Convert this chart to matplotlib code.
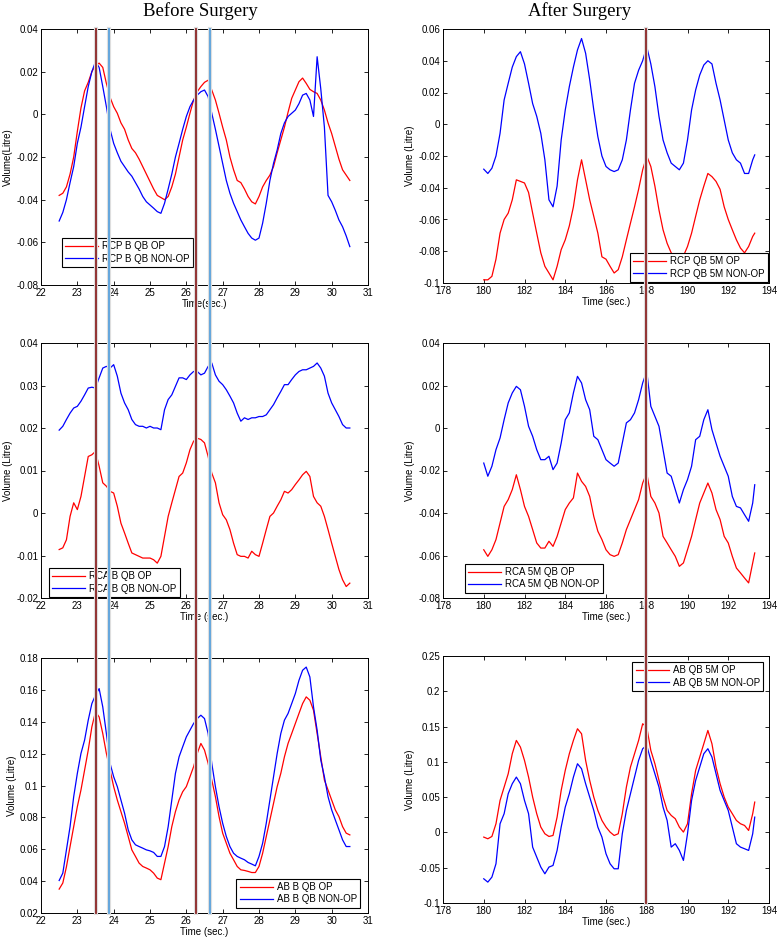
import numpy as np
import matplotlib
matplotlib.use("Agg")
import matplotlib.pyplot as plt
from matplotlib.lines import Line2D
from matplotlib.transforms import blended_transform_factory

plt.rcParams['font.family'] = ['Liberation Sans', 'DejaVu Sans']

# sample times (s)
t_before = np.round(np.arange(22.5, 30.55, 0.1), 1)
t_after = np.append(np.round(np.arange(180.0, 193.25, 0.2), 1), 193.3)

# ---- before surgery ----
rcp_b_op = [-0.038, -0.037, -0.034, -0.028, -0.020, -0.008, 0.003, 0.011, 0.015, 0.020,
            0.023, 0.024, 0.022, 0.0145, 0.008, 0.0036, 0.0005, -0.004, -0.007, -0.012,
            -0.016, -0.018, -0.021, -0.0245, -0.028, -0.0315, -0.035, -0.038, -0.039, -0.040,
            -0.0385, -0.034, -0.028, -0.020, -0.012, -0.006, 0.0005, 0.0067, 0.0106, 0.013,
            0.015, 0.016, 0.0114, 0.0067, 0.0005, -0.006, -0.012, -0.020, -0.026, -0.031,
            -0.032, -0.035, -0.0385, -0.041, -0.042, -0.0385, -0.034, -0.031, -0.0285, -0.0245,
            -0.018, -0.012, -0.006, 0.001, 0.0075, 0.0114, 0.0153, 0.017, 0.0145, 0.0117,
            0.0106, 0.0098, 0.0067, 0.002, -0.004, -0.009, -0.015, -0.021, -0.026, -0.0285,
            -0.031]
rcp_b_nonop = [-0.050, -0.046, -0.040, -0.032, -0.0245, -0.0136, -0.006, 0.0036, 0.013, 0.020,
               0.0247, 0.022, 0.013, 0.0036, -0.007, -0.0136, -0.018, -0.022, -0.0245, -0.027,
               -0.029, -0.032, -0.035, -0.0385, -0.041, -0.0425, -0.044, -0.0456, -0.0464, -0.0417,
               -0.035, -0.028, -0.020, -0.0136, -0.007, -0.001, 0.0036, 0.0067, 0.009, 0.0106,
               0.0114, 0.0083, 0.0005, -0.007, -0.015, -0.023, -0.031, -0.037, -0.0417, -0.0456,
               -0.0495, -0.0527, -0.0558, -0.058, -0.059, -0.058, -0.051, -0.0417, -0.031, -0.023,
               -0.0167, -0.009, -0.004, -0.001, 0.0005, 0.002, 0.005, 0.009, 0.0098, 0.0067,
               -0.001, 0.027, 0.012, -0.006, -0.038, -0.041, -0.045, -0.0495, -0.0527, -0.057,
               -0.062]

rca_b_op = [-0.0086, -0.0082, -0.0063, -0.0008, 0.0024, 0.0008, 0.0039, 0.0086, 0.0133, 0.0137,
            0.0145, 0.011, 0.0071, 0.0063, 0.0051, 0.0047, 0.0016, -0.0024, -0.0047, -0.0071,
            -0.0094, -0.0098, -0.0102, -0.0106, -0.0106, -0.0106, -0.011, -0.0118, -0.0102, -0.0055,
            -0.0008, 0.0024, 0.0055, 0.0086, 0.0094, 0.0118, 0.0149, 0.0169, 0.0176, 0.0173,
            0.0165, 0.0133, 0.0094, 0.0071, 0.0024, -0.0004, -0.0016, -0.0039, -0.0071, -0.0098,
            -0.0102, -0.0102, -0.0106, -0.009, -0.0098, -0.0102, -0.0071, -0.0039, -0.0008, 0.0,
            0.0016, 0.0031, 0.0051, 0.0047, 0.0055, 0.0067, 0.0078, 0.009, 0.0098, 0.0086,
            0.0039, 0.0024, 0.0016, -0.0008, -0.0039, -0.0071, -0.0102, -0.0133, -0.0157, -0.0173,
            -0.0165]
rca_b_nonop = [0.0195, 0.0204, 0.022, 0.0235, 0.0247, 0.0251, 0.0263, 0.0278, 0.0294, 0.0296,
               0.0294, 0.0318, 0.0341, 0.0345, 0.0341, 0.0349, 0.0322, 0.0282, 0.0259, 0.0243,
               0.022, 0.0208, 0.0204, 0.0204, 0.020, 0.0204, 0.020, 0.020, 0.0196, 0.0243,
               0.0267, 0.0278, 0.0298, 0.0318, 0.0318, 0.0314, 0.0325, 0.0333, 0.0333, 0.0325,
               0.0329, 0.0345, 0.0353, 0.0325, 0.031, 0.0302, 0.029, 0.0275, 0.0259, 0.0235,
               0.0216, 0.0224, 0.022, 0.0224, 0.0224, 0.0227, 0.0227, 0.0231, 0.0243, 0.0255,
               0.0271, 0.0286, 0.0302, 0.0302, 0.0314, 0.0325, 0.0333, 0.0337, 0.0337, 0.0341,
               0.0345, 0.0353, 0.0341, 0.0322, 0.0282, 0.0259, 0.0243, 0.0227, 0.0208, 0.020,
               0.020]

ab_b_op = [0.035, 0.0388, 0.049, 0.0617, 0.0742, 0.0867, 0.0972, 0.1097, 0.1222, 0.1368,
           0.1462, 0.143, 0.1326, 0.1201, 0.1097, 0.0993, 0.0909, 0.0836, 0.0763, 0.068,
           0.0596, 0.0555, 0.0513, 0.0492, 0.0482, 0.0471, 0.045, 0.0419, 0.0409, 0.0513,
           0.0617, 0.0742, 0.0836, 0.0909, 0.0961, 0.0993, 0.1055, 0.1118, 0.1201, 0.1264,
           0.1222, 0.1139, 0.1034, 0.093, 0.0805, 0.0701, 0.0638, 0.0575, 0.0534, 0.0492,
           0.0471, 0.0467, 0.0461, 0.0454, 0.0454, 0.0492, 0.0575, 0.068, 0.0784, 0.0888,
           0.0993, 0.1076, 0.118, 0.1264, 0.1326, 0.1389, 0.1452, 0.1514, 0.1556, 0.1535,
           0.1472, 0.1326, 0.118, 0.1034, 0.0972, 0.0909, 0.0847, 0.0805, 0.0742, 0.0701,
           0.069]
ab_b_nonop = [0.0404, 0.045, 0.0596, 0.0742, 0.093, 0.1076, 0.1201, 0.1285, 0.141, 0.1514,
              0.1567, 0.1608, 0.1493, 0.1326, 0.1139, 0.1055, 0.0993, 0.0909, 0.0826, 0.0722,
              0.0659, 0.0628, 0.0617, 0.0607, 0.0596, 0.059, 0.058, 0.0555, 0.0555, 0.0617,
              0.0742, 0.0909, 0.1076, 0.118, 0.1243, 0.1305, 0.1347, 0.1389, 0.142, 0.1441,
              0.142, 0.1326, 0.1139, 0.0993, 0.0867, 0.0763, 0.068, 0.0617, 0.0575, 0.0555,
              0.0544, 0.0534, 0.0517, 0.0507, 0.0496, 0.0555, 0.0638, 0.0763, 0.0909, 0.1055,
              0.1201, 0.1326, 0.141, 0.1452, 0.1514, 0.1577, 0.166, 0.1723, 0.1743, 0.1681,
              0.1493, 0.1347, 0.116, 0.1055, 0.093, 0.0847, 0.0784, 0.0722, 0.0659, 0.0617,
              0.0617]

# ---- after surgery (5 months) ----
rcp_5m_op = [-0.098, -0.098, -0.0958, -0.085, -0.0686, -0.060, -0.056, -0.0476, -0.035, -0.036,
             -0.037, -0.043, -0.056, -0.0686, -0.081, -0.0895, -0.0937, -0.098, -0.0895, -0.079,
             -0.0728, -0.064, -0.052, -0.035, -0.0224, -0.035, -0.0476, -0.058, -0.0686, -0.0835,
             -0.085, -0.0895, -0.0937, -0.0916, -0.0835, -0.0728, -0.0623, -0.052, -0.041, -0.0287,
             -0.020, -0.0266, -0.039, -0.054, -0.0665, -0.075, -0.081, -0.084, -0.086, -0.083,
             -0.077, -0.0686, -0.058, -0.0476, -0.039, -0.031, -0.033, -0.036, -0.041, -0.052,
             -0.060, -0.0665, -0.0728, -0.078, -0.081, -0.077, -0.0707,
             -0.0686]
rcp_5m_nonop = [-0.0283, -0.031, -0.0277, -0.020, -0.0057, 0.0153, 0.0258, 0.036, 0.0426, 0.0457,
                0.038, 0.0258, 0.013, 0.005, -0.0057, -0.0224, -0.0476, -0.052, -0.039, -0.0099,
                0.009, 0.0237, 0.036, 0.0468, 0.054, 0.0447, 0.028, 0.009, -0.0078, -0.020,
                -0.0266, -0.0287, -0.0298, -0.0287, -0.0224, -0.0099, 0.009, 0.0258, 0.034, 0.040,
                0.0489, 0.038, 0.0237, 0.005, -0.0099, -0.018, -0.0245, -0.0266, -0.0287, -0.0245,
                -0.0099, 0.009, 0.0216, 0.031, 0.0373, 0.040, 0.038, 0.0258, 0.0153, 0.0027,
                -0.0099, -0.018, -0.0224, -0.0245, -0.031, -0.031, -0.0224,
                -0.0193]

rca_5m_op = [-0.0573, -0.0604, -0.0573, -0.0525, -0.0447, -0.0369, -0.0337, -0.029, -0.022, -0.029,
             -0.0369, -0.0416, -0.0478, -0.0541, -0.0565, -0.0565, -0.0533, -0.0557, -0.051, -0.0447,
             -0.0384, -0.0353, -0.0329, -0.0212, -0.0251, -0.0275, -0.0322, -0.0416, -0.0486, -0.0525,
             -0.0573, -0.0596, -0.0604, -0.0596, -0.0541, -0.0478, -0.0431, -0.0384, -0.0337, -0.0259,
             -0.0212, -0.0322, -0.0353, -0.040, -0.051, -0.0541, -0.0573, -0.0604, -0.0651, -0.0635,
             -0.0573, -0.051, -0.0431, -0.0353, -0.0306, -0.0259, -0.0306, -0.0384, -0.0431, -0.051,
             -0.0541, -0.0604, -0.0659, -0.0682, -0.0706, -0.0729, -0.0635,
             -0.0588]
rca_5m_nonop = [-0.0165, -0.0227, -0.018, -0.0102, -0.0047, 0.0039, 0.0118, 0.0165, 0.0196, 0.018,
                0.0102, 0.0008, -0.0039, -0.0102, -0.0149, -0.0149, -0.0133, -0.0196, -0.0165, -0.0071,
                0.0039, 0.0071, 0.0165, 0.0243, 0.0212, 0.0133, 0.0086, -0.0039, -0.0055, -0.0102,
                -0.0149, -0.0165, -0.018, -0.0165, -0.0071, 0.0024, 0.0039, 0.0071, 0.0133, 0.0212,
                0.0267, 0.0102, 0.0055, 0.0008, -0.0102, -0.0212, -0.0227, -0.029, -0.0353, -0.029,
                -0.0243, -0.018, -0.0055, -0.0039, 0.0039, 0.0086, -0.0008, -0.0071, -0.0133, -0.018,
                -0.0227, -0.0322, -0.0369, -0.0376, -0.0408, -0.0439, -0.0353,
                -0.0267]

ab_5m_op = [-0.0066, -0.009, -0.0057, 0.0123, 0.0453, 0.0642, 0.0831, 0.1115, 0.1304, 0.1209,
            0.102, 0.0784, 0.0501, 0.0265, 0.0076, -0.0019, -0.0057, -0.0043, 0.0217, 0.0595,
            0.0879, 0.1115, 0.1304, 0.1469, 0.1398, 0.102, 0.0737, 0.0501, 0.0312, 0.017,
            0.0076, 0.0005, -0.0043, -0.0019, 0.0265, 0.0642, 0.0926, 0.1115, 0.1304, 0.154,
            0.1493, 0.1162, 0.0973, 0.0737, 0.0501, 0.0312, 0.0241, 0.0194, 0.0076, 0.0005,
            0.0123, 0.0548, 0.0879, 0.1068, 0.1256, 0.1445, 0.1256, 0.0926, 0.069, 0.0501,
            0.0359, 0.0265, 0.017, 0.0123, 0.0099, 0.0028, 0.0265,
            0.043]
ab_5m_nonop = [-0.0657, -0.0704, -0.0633, -0.0444, 0.0123, 0.0265, 0.0548, 0.069, 0.0784, 0.069,
               0.0453, 0.0265, -0.0208, -0.035, -0.0491, -0.0586, -0.0491, -0.0468, -0.0255, 0.0076,
               0.0359, 0.0548, 0.0784, 0.0973, 0.0902, 0.069, 0.0501, 0.0312, 0.0076, -0.0066,
               -0.0302, -0.0444, -0.0515, -0.0515, -0.0019, 0.0312, 0.0548, 0.0784, 0.102, 0.1186,
               0.1233, 0.102, 0.0831, 0.0642, 0.0359, 0.017, -0.0208, -0.016, -0.0255, -0.0397,
               -0.0019, 0.0453, 0.0737, 0.0926, 0.1115, 0.1186, 0.1068, 0.0831, 0.0595, 0.0453,
               0.0312, 0.0076, -0.016, -0.0208, -0.0231, -0.0255, -0.0019,
               0.0217]

# marker times (vertical lines)
before_red_marks = [23.5, 26.27]
before_blue_marks = [23.88, 26.66]
after_red_marks = [187.97]

W, H = 778, 942
fig = plt.figure(figsize=(W / 100, H / 100), dpi=100)


def rect(l, t, r, b):
    # pixel box -> figure fractions
    return [l / W, 1 - b / H, (r - l) / W, (b - t) / H]


def style_axes(ax, xlim, ylim, yticks, ylabel, xlabel):
    ax.set_xlim(*xlim)
    ax.set_ylim(*ylim)
    ax.set_yticks(yticks)
    ax.set_yticklabels([('%g' % v) for v in yticks])
    ax.tick_params(direction='in', top=True, right=True, labelsize=7, length=3, width=0.6, pad=2)
    ax.set_ylabel(ylabel, fontsize=7, labelpad=2)
    ax.set_xlabel(xlabel, fontsize=7, labelpad=1)
    for s in ax.spines.values():
        s.set_linewidth(0.7)


def add_legend(ax, labels, loc, anchor):
    leg = ax.legend(labels, loc=loc, bbox_to_anchor=anchor, fontsize=7, fancybox=False,
                    framealpha=1, edgecolor='black', borderaxespad=0, handlelength=3.4,
                    labelspacing=0.25, borderpad=0.35, handletextpad=0.4)
    leg.get_frame().set_linewidth(0.8)


lw = 0.9
left_ticks = np.arange(22, 32, 1)
right_ticks = np.arange(178, 196, 2)

# top left
ax1 = fig.add_axes(rect(41, 29, 368, 285))
ax1.plot(t_before, rcp_b_op, color='red', lw=lw)
ax1.plot(t_before, rcp_b_nonop, color='blue', lw=lw)
ax1.set_xticks(left_ticks)
style_axes(ax1, (22, 31), (-0.08, 0.04), [-0.08, -0.06, -0.04, -0.02, 0, 0.02, 0.04], 'Volume(Litre)', 'Time(sec.)')
add_legend(ax1, ['RCP B QB OP', 'RCP B QB NON-OP'], 'lower left', (0.064, 0.07))

# top right
ax2 = fig.add_axes(rect(443, 29, 769, 283))
ax2.plot(t_after, rcp_5m_op, color='red', lw=lw)
ax2.plot(t_after, rcp_5m_nonop, color='blue', lw=lw)
ax2.set_xticks(right_ticks)
style_axes(ax2, (178, 194), (-0.1, 0.06), [-0.1, -0.08, -0.06, -0.04, -0.02, 0, 0.02, 0.04, 0.06], 'Volume (Litre)', 'Time (sec.)')
add_legend(ax2, ['RCP QB 5M OP', 'RCP QB 5M NON-OP'], 'lower right', (0.997, 0.004))

# middle left
ax3 = fig.add_axes(rect(41, 343, 368, 598))
ax3.plot(t_before, rca_b_op, color='red', lw=lw)
ax3.plot(t_before, rca_b_nonop, color='blue', lw=lw)
ax3.set_xticks(left_ticks)
style_axes(ax3, (22, 31), (-0.02, 0.04), [-0.02, -0.01, 0, 0.01, 0.02, 0.03, 0.04], 'Volume (Litre)', 'Time (sec.)')
add_legend(ax3, ['RCA B QB OP', 'RCA B QB NON-OP'], 'lower left', (0.024, 0.004))

# middle right
ax4 = fig.add_axes(rect(443, 343, 769, 598))
ax4.plot(t_after, rca_5m_op, color='red', lw=lw)
ax4.plot(t_after, rca_5m_nonop, color='blue', lw=lw)
ax4.set_xticks(right_ticks)
style_axes(ax4, (178, 194), (-0.08, 0.04), [-0.08, -0.06, -0.04, -0.02, 0, 0.02, 0.04], 'Volume (Litre)', 'Time (sec.)')
add_legend(ax4, ['RCA 5M QB OP', 'RCA 5M QB NON-OP'], 'lower left', (0.067, 0.02))

# bottom left
ax5 = fig.add_axes(rect(41, 658, 368, 913))
ax5.plot(t_before, ab_b_op, color='red', lw=lw)
ax5.plot(t_before, ab_b_nonop, color='blue', lw=lw)
ax5.set_xticks(left_ticks)
style_axes(ax5, (22, 31), (0.02, 0.18), [0.02, 0.04, 0.06, 0.08, 0.1, 0.12, 0.14, 0.16, 0.18], 'Volume (Litre)', 'Time (sec.)')
add_legend(ax5, ['AB B QB OP', 'AB B QB NON-OP'], 'lower right', (0.976, 0.02))

# bottom right
ax6 = fig.add_axes(rect(443, 656, 769, 903))
ax6.plot(t_after, ab_5m_op, color='red', lw=lw)
ax6.plot(t_after, ab_5m_nonop, color='blue', lw=lw)
ax6.set_xticks(right_ticks)
style_axes(ax6, (178, 194), (-0.1, 0.25), [-0.1, -0.05, 0, 0.05, 0.1, 0.15, 0.2, 0.25], 'Volume (Litre)', 'Time (sec.)')
add_legend(ax6, ['AB QB 5M OP', 'AB QB 5M NON-OP'], 'upper right', (0.982, 0.976))

# vertical marker lines running down the whole column (from top of first axes)
def column_line(ax, x, y_top_px, y_bottom_px, color):
    tr = blended_transform_factory(ax.transData, fig.transFigure)
    yb = 1 - y_bottom_px / H
    yt = 1 - y_top_px / H
    fig.add_artist(Line2D([x, x], [yb, yt], transform=tr, color='#dedede', lw=3.0, zorder=5))
    fig.add_artist(Line2D([x, x], [yb, yt], transform=tr, color=color, lw=1.3, zorder=6))

for x in before_red_marks:
    column_line(ax1, x, 29, 913, '#8b2626')
for x in before_blue_marks:
    column_line(ax1, x, 29, 913, '#5aa2dc')
for x in after_red_marks:
    column_line(ax2, x, 29, 903, '#8b2626')

fig.text(200 / W, 1 - 11 / H, 'Before Surgery', ha='center', va='center', fontsize=13.5, family='Liberation Serif')
fig.text(580 / W, 1 - 11 / H, 'After Surgery', ha='center', va='center', fontsize=13.5, family='Liberation Serif')

fig.savefig('out.png', dpi=100)
